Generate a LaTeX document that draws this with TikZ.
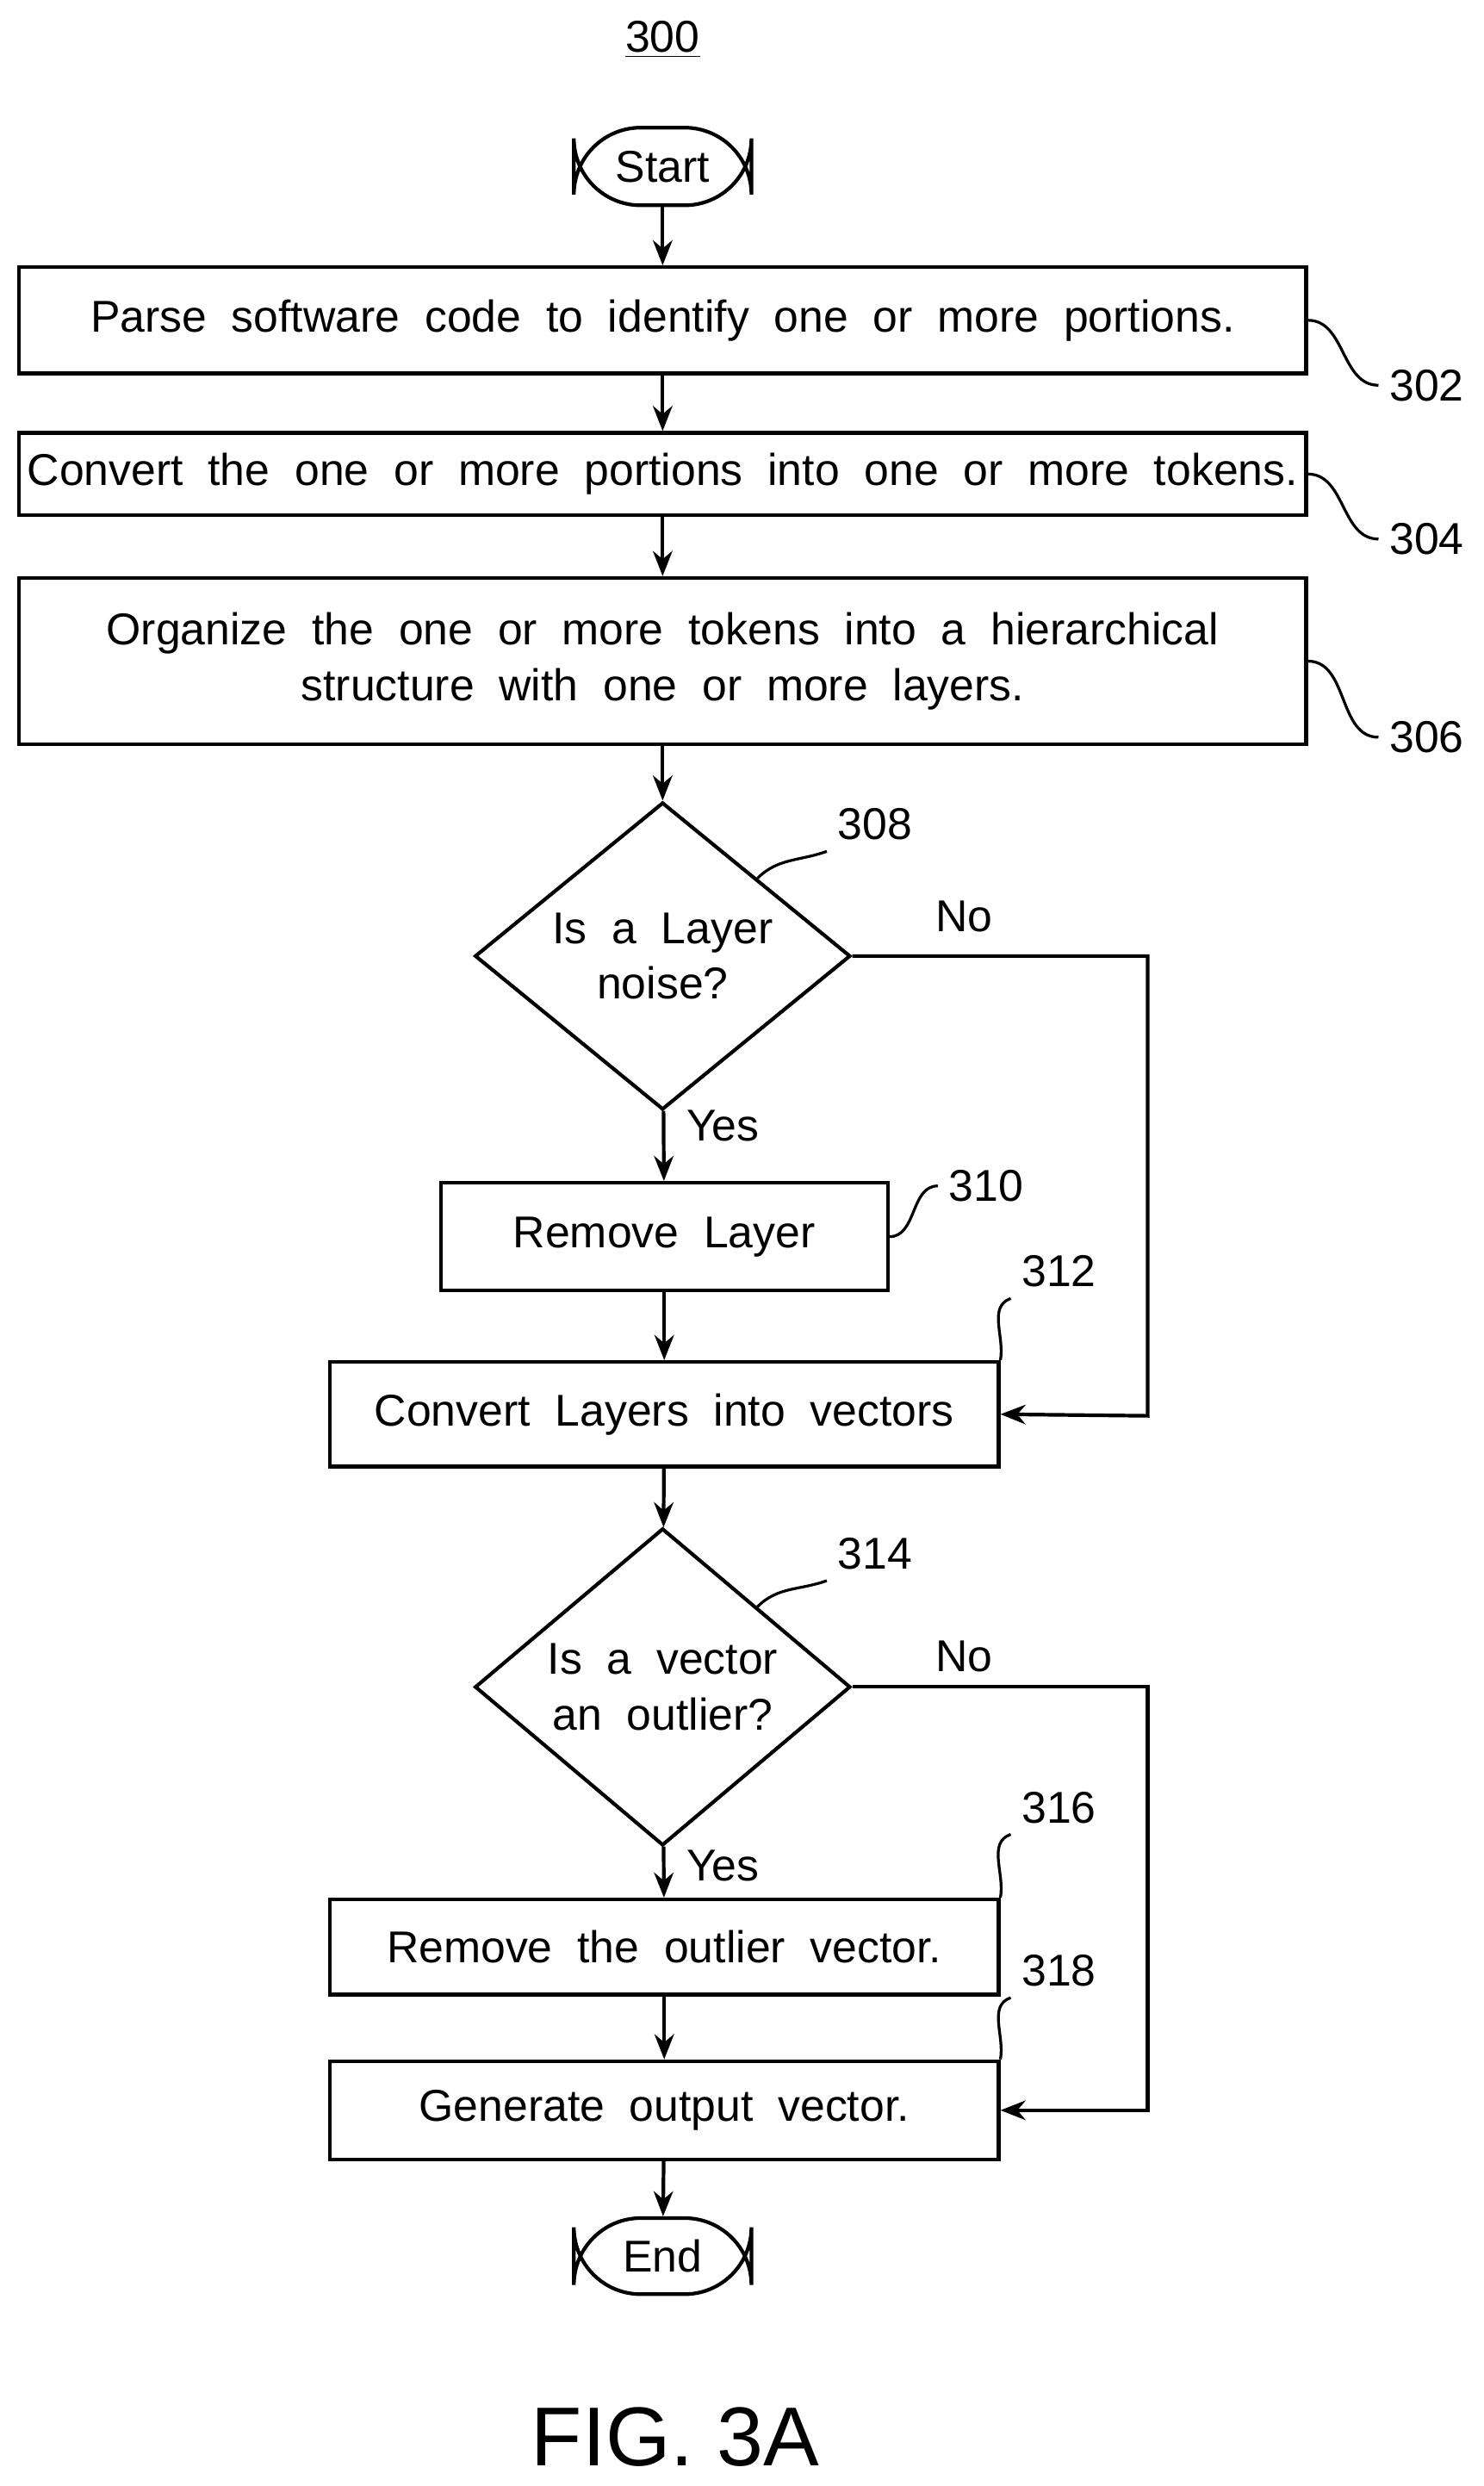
\documentclass[tikz,border=0pt]{standalone}
\usepackage{fontspec}
\setmainfont{Liberation Sans}
\usetikzlibrary{arrows.meta}
\usetikzlibrary{shapes.geometric}
\begin{document}
\begin{tikzpicture}[x=0.02cm,y=-0.02cm,line width=1.3pt,
	font=\fontsize{16}{20}\selectfont]
	\useasboundingbox (0,0) rectangle (936,1568);
	\node (300) at (418,25) {\underline{300}};
	\begin{scope}[every node/.style={draw,rectangle,align=center,inner sep=2pt}]
		\node[rounded corners=24pt,minimum width=2.24cm,minimum height=0.98cm] (start) at (418,105) {Start};
		\node[minimum width=16.24cm,minimum height=1.34cm] (302) at (418,202) {Parse\ \ software\ \ code\ \ to\ \ identify\ \ one\ \ or\ \ more\ \ portions.};
		\node[minimum width=16.24cm,minimum height=1.04cm] (304) at (418,299) {Convert\ \ the\ \ one\ \ or\ \ more\ \ portions\ \ into\ \ one\ \ or\ \ more\ \ tokens.};
		\node[minimum width=16.24cm,minimum height=2.1cm] (306) at (418,417) {Organize\ \ the\ \ one\ \ or\ \ more\ \ tokens\ \ into\ \ a\ \ hierarchical\\structure\ \ with\ \ one\ \ or\ \ more\ \ layers.};
		\node[diamond,inner sep=0pt,minimum width=4.74cm,minimum height=3.62cm] (308) at (418,603) {Is\ \ a\ \ Layer\\noise?};
		\node[minimum width=5.64cm,minimum height=1.36cm] (310) at (419,780) {Remove\ \ Layer};
		\node[minimum width=8.44cm,minimum height=1.32cm] (312) at (419,892) {Convert\ \ Layers\ \ into\ \ vectors};
		\node[diamond,inner sep=0pt,minimum width=4.74cm,minimum height=3.66cm] (314) at (418,1064) {Is\ \ a\ \ vector\\an\ \ outlier?};
		\node[minimum width=8.44cm,minimum height=1.2cm] (316) at (419,1228) {Remove\ \ the\ \ outlier\ \ vector.};
		\node[minimum width=8.44cm,minimum height=1.24cm] (318) at (419,1331) {Generate\ \ output\ \ vector.};
		\node[rounded corners=24pt,minimum width=2.24cm,minimum height=0.96cm] (end) at (418,1423) {End};
	\end{scope}

	% reference numerals
	\node (l302) at (900,243) {302};
	\node (l304) at (900,340) {304};
	\node (l306) at (900,465) {306};
	\node (l308) at (552,520) {308};
	\node (l310) at (622,748) {310};
	\node (l312) at (668,802) {312};
	\node (l314) at (552,980) {314};
	\node (l316) at (668,1140) {316};
	\node (l318) at (668,1243) {318};
	\node (no1) at (608,578) {No};
	\node (no2) at (608,1045) {No};
	\node (yes1) at (456,710) {Yes};
	\node (yes2) at (456,1177) {Yes};
	\node[font=\fontsize{30}{36}\selectfont] (fig) at (426,1537) {FIG. 3A};

	\begin{scope}[>={Stealth[length=9pt,width=7pt]}]
		\draw[->] (start) -- (302);
		\draw[->] (302) -- (304);
		\draw[->] (304) -- (306);
		\draw[->] (306) -- (308);
		\draw[->] (308) -- (310);
		\draw[->] (310) -- (312);
		\draw[->] (308.east) -| (724,893) -- (312.east);
		\draw[->] (312) -- (314);
		\draw[->] (314) -- (316);
		\draw[->] (316) -- (318);
		\draw[->] (314.east) -| (724,1331) -- (318.east);
		\draw[->] (318) -- (end);
	\end{scope}

	\begin{scope}[line width=1pt]
		\draw (302.east) to[out=0,in=180] (l302.west);
		\draw (304.east) to[out=0,in=180] (l304.west);
		\draw (306.east) to[out=0,in=180] (l306.west);
		\draw (308.north east) to[out=45,in=200] (l308.south west);
		\draw (310.east) to[out=0,in=180] (l310.west);
		\draw (312.north east) to[out=80,in=200] (l312.south west);
		\draw (314.north east) to[out=45,in=200] (l314.south west);
		\draw (316.north east) to[out=80,in=200] (l316.south west);
		\draw (318.north east) to[out=80,in=200] (l318.south west);
	\end{scope}
\end{tikzpicture}
\end{document}
